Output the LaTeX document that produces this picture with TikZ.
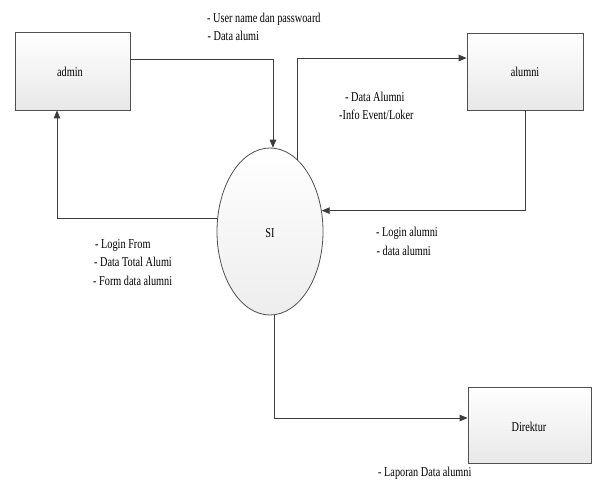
\documentclass[tikz,border=0pt]{standalone}
\usepackage{fontspec}
\setmainfont{Liberation Serif}[FakeStretch=0.76]
\usetikzlibrary{arrows.meta,shapes.geometric,calc}
\definecolor{linec}{HTML}{3C3C3C}
\definecolor{edgec}{HTML}{505050}
\begin{document}
\begin{tikzpicture}[x=1pt,y=-1pt,
  every node/.style={font=\fontsize{13.5}{16}\selectfont, text=black},
  entity/.style={draw=edgec, line width=0.8pt, rectangle, top color=white, bottom color=gray!18, inner sep=0pt},
  proc/.style={draw=edgec, line width=0.8pt, ellipse, top color=white, bottom color=gray!14, inner sep=0pt, minimum width=106pt, minimum height=167pt},
  flow/.style={draw=linec, line width=0.8pt, -{Triangle[length=8pt,width=6.5pt]}},
  lbl/.style={anchor=base west, inner sep=0pt}
]
\useasboundingbox[fill=white] (0,0) rectangle (593,481);

\node[entity, minimum width=115pt, minimum height=78pt] (admin) at (72.5,71) {};
\node (admintxt) at (70,72) {admin};
\node[entity, minimum width=116pt, minimum height=77pt] (alumni) at (525,71.5) {};
\node (alumnitxt) at (525,72) {alumni};
\node[entity, minimum width=123pt, minimum height=76pt] (direktur) at (529.5,425) {};
\node (direkturtxt) at (529,427) {Direktur};
\node[proc] (SI) at (270,231.5) {};
\node (SItxt) at (270,233) {SI};

% connectors
\draw[flow] ([yshift=12pt]admin.east) -| (SI.88.3);
\draw[flow] (SI.69.4) |- ([yshift=13.5pt]alumni.west);
\draw[flow] (alumni.south) |- (SI.22.8);
\draw[flow] (SI.166.6) -| ([xshift=-15.5pt]admin.south);
\draw[flow] (SI.-87.25) |- ([yshift=7pt]direktur.west);

% labels
\node[lbl] (l1a) at (207,23) {- User name dan passwoard};
\node[lbl] (l1b) at (207.5,40.5) {- Data alumi};
\node[lbl] (l2a) at (345,101.5) {- Data Alumni};
\node[lbl] (l2b) at (339,119.5) {-Info Event/Loker};
\node[lbl] (l3a) at (376,236.5) {- Login alumni};
\node[lbl] (l3b) at (376.5,255) {- data alumni};
\node[lbl] (l4a) at (95,248) {- Login From};
\node[lbl] (l4b) at (94,266.5) {- Data Total Alumi};
\node[lbl] (l4c) at (93,285) {- Form data alumni};
\node[lbl] (l5) at (378,476) {- Laporan Data alumni};
\end{tikzpicture}
\end{document}
